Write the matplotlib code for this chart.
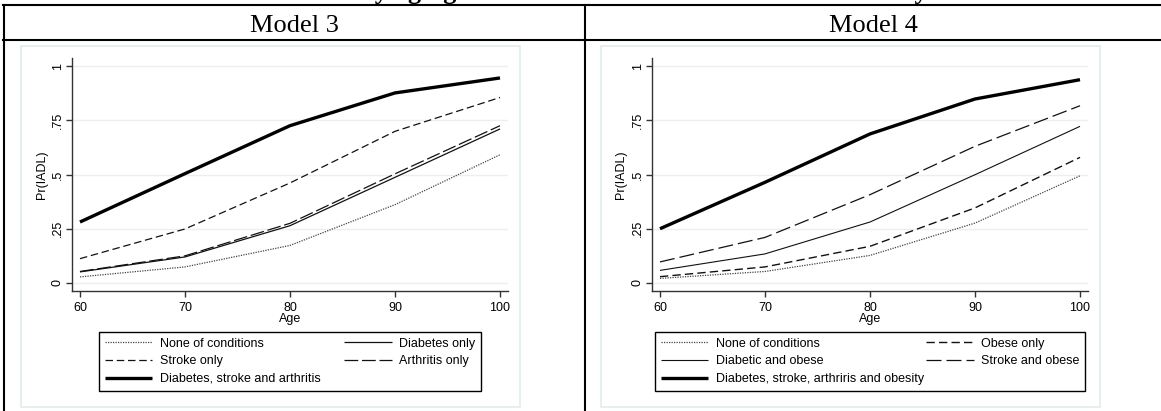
import matplotlib.pyplot as plt
from matplotlib.lines import Line2D
from matplotlib.patches import Rectangle

plt.rcParams['font.family'] = ['Liberation Sans', 'DejaVu Sans']

ages = [60, 70, 80, 90, 100]
yticks = [0, 0.25, 0.5, 0.75, 1]
ytick_labels = ['0', '.25', '.5', '.75', '1']

# Model 3
m3_none = [0.028, 0.074, 0.173, 0.361, 0.591]
m3_diabetes = [0.051, 0.120, 0.264, 0.487, 0.710]
m3_stroke = [0.112, 0.249, 0.461, 0.699, 0.855]
m3_arthritis = [0.053, 0.125, 0.275, 0.503, 0.725]
m3_all = [0.281, 0.504, 0.725, 0.876, 0.945]
m3_labels = ['None of conditions', 'Diabetes only', 'Stroke only',
             'Arthritis only', 'Diabetes, stroke and arthritis']

# Model 4
m4_none = [0.021, 0.053, 0.127, 0.276, 0.494]
m4_obese = [0.029, 0.074, 0.169, 0.346, 0.579]
m4_diab_obese = [0.058, 0.134, 0.281, 0.499, 0.722]
m4_stroke_obese = [0.097, 0.210, 0.407, 0.630, 0.817]
m4_all = [0.250, 0.464, 0.687, 0.848, 0.937]
m4_labels = ['None of conditions', 'Obese only', 'Diabetic and obese',
             'Stroke and obese', 'Diabetes, stroke, arthriris and obesity']

W, H = 1161, 411
fig = plt.figure(figsize=(W / 100, H / 100), dpi=100)


def box(x0, y0, x1, y1):
    return [x0 / W, 1 - y1 / H, (x1 - x0) / W, (y1 - y0) / H]


def hline(x0, x1, y):
    fig.add_artist(Line2D([x0 / W, x1 / W], [1 - y / H, 1 - y / H],
                          transform=fig.transFigure, color='black', lw=1.5))


def vline(x, y0, y1):
    fig.add_artist(Line2D([x / W, x / W], [1 - y0 / H, 1 - y1 / H],
                          transform=fig.transFigure, color='black', lw=1.5))


# table frame
hline(3, W, 5)
hline(3, W, 40.5)
vline(4, 5, H)
vline(584.5, 5, H)

# clipped caption line above the table
fig.text(360 / W, 1 + 1.5 / H, 'Estimated IADL limitation rates ', ha='right', va='baseline',
         family='Liberation Serif', weight='bold', fontsize=19)
fig.text(360 / W, 1 + 1.5 / H, 'by aging and chronic conditions in all the states by sex',
         ha='left', va='baseline', family='Liberation Serif', weight='bold', fontsize=19)

fig.text(294 / W, 1 - 32 / H, 'Model 3', ha='center', va='baseline',
         family='Liberation Serif', fontsize=19)
fig.text(873 / W, 1 - 32 / H, 'Model 4', ha='center', va='baseline',
         family='Liberation Serif', fontsize=19)

styles_m3 = [
    dict(color='#444444', lw=0.9, dashes=(1, 1)),
    dict(color='#111111', lw=0.9),
    dict(color='#111111', lw=0.9, dashes=(6, 3)),
    dict(color='#111111', lw=0.9, dashes=(11, 3)),
    dict(color='#000000', lw=2.4),
]
styles_m4 = [
    dict(color='#444444', lw=0.9, dashes=(1, 1)),
    dict(color='#111111', lw=1.0, dashes=(6, 3)),
    dict(color='#111111', lw=0.8),
    dict(color='#111111', lw=0.9, dashes=(12, 4)),
    dict(color='#000000', lw=2.4),
]


def panel(x_off, series, labels, styles, colspacing):
    fig.add_artist(Rectangle(((21 + x_off) / W, 1 - 407 / H), 499 / W, 361 / H,
                             transform=fig.transFigure, facecolor='white',
                             edgecolor='#e2eced', lw=1.2, zorder=-1))
    ax = fig.add_axes(box(72 + x_off, 58, 508 + x_off, 291))
    ax.patch.set_alpha(0)
    handles = []
    for vals, lab, st in zip(series, labels, styles):
        h, = ax.plot(ages, vals, label=lab, solid_capstyle='butt', **st)
        handles.append(h)
    ax.set_xlim(59.24, 100.76)
    ax.set_ylim(-0.037, 1.037)
    ax.set_xticks(ages)
    ax.set_yticks(yticks)
    ax.set_yticklabels(ytick_labels, rotation=90, va='center')
    ax.grid(axis='y', color='#e8f0f1', lw=1.0)
    ax.set_axisbelow(True)
    for s in ['top', 'right']:
        ax.spines[s].set_visible(False)
    for s in ['left', 'bottom']:
        ax.spines[s].set_color('#333333')
        ax.spines[s].set_linewidth(1.0)
    ax.tick_params(direction='out', length=4, width=1, color='#333333',
                   labelsize=9, pad=2)
    ax.tick_params(axis='x', pad=4)
    ax.set_xlabel('Age', fontsize=9, labelpad=-1)
    ax.set_ylabel('Pr(IADL)', fontsize=9, labelpad=3)
    order = [0, 2, 4, 1, 3]
    fig.legend([handles[i] for i in order], [labels[i] for i in order],
               ncol=2, loc='upper center',
               bbox_to_anchor=((290 + x_off) / W, 1 - 332 / H),
               bbox_transform=fig.transFigure, fontsize=9,
               frameon=True, fancybox=False, framealpha=1, edgecolor='black',
               borderpad=0.45, handlelength=3.8, handletextpad=0.6,
               labelspacing=0.45, columnspacing=colspacing, borderaxespad=0)
    return ax


panel(0, [m3_none, m3_diabetes, m3_stroke, m3_arthritis, m3_all],
      m3_labels, styles_m3, 1.9)
panel(580, [m4_none, m4_obese, m4_diab_obese, m4_stroke_obese, m4_all],
      m4_labels, styles_m4, 0.2)

fig.savefig('out.png', dpi=100)
